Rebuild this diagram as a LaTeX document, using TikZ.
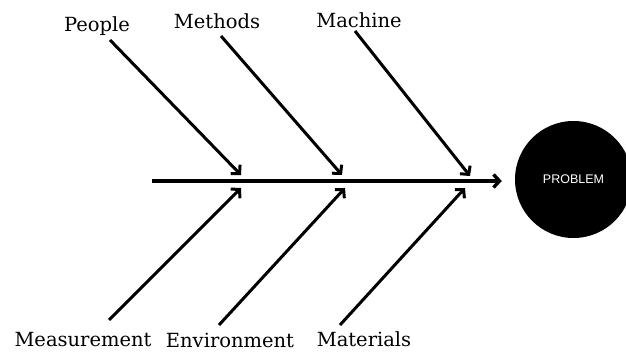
\documentclass[tikz,border=0pt]{standalone}
\usepackage{fontspec}
\newfontfamily\causefont{DejaVu Serif}
\newfontfamily\probfont{Liberation Sans}
\usetikzlibrary{arrows.meta,positioning}
\tikzset{
  cause/.style={font=\causefont\fontsize{19.5}{22}\selectfont,inner sep=1pt},
  bone/.style={-{Straight Barb[length=6pt,width=13pt]},line width=3pt,draw=black},
  spine/.style={bone,line width=3.4pt},
  problem/.style={circle,fill=black,minimum size=117pt,inner sep=0pt,text=white,font=\probfont\fontsize{12.5}{14}\selectfont},
}

\begin{document}
\begin{tikzpicture}[x=1pt,y=-1pt]
    \useasboundingbox (0,0) rectangle (626,352);
    \node[problem] (prob) at (573.5,179.5) {PROBLEM};
    \coordinate (tail) at (152,181);
    \draw[spine,shorten >=13pt] (tail) -- (tail -| prob.west);
    % causes above the spine
    \node[cause] (people) at (97,26) {People};
    \node[cause] (methods) at (217,21) {Methods};
    \node[cause] (machine) at (359,20) {Machine};
    \coordinate (pe0) at (110,40);  \coordinate (pe1) at (241,175);
    \coordinate (me0) at (221,36);  \coordinate (me1) at (342,175);
    \coordinate (ma0) at (355,31);  \coordinate (ma1) at (470,176);
    \draw[bone](pe0)--(pe1);\draw[bone](me0)--(me1);\draw[bone](ma0)--(ma1);
    % causes below the spine
    \node[cause] (measure) at (83,340) {Measurement};
    \node[cause] (environ) at (230,340) {Environment};
    \node[cause] (material) at (364,339) {Materials};
    \coordinate (mu0) at (109,320); \coordinate (mu1) at (241,188);
    \coordinate (en0) at (219,325); \coordinate (en1) at (345,188);
    \coordinate (mt0) at (340,325); \coordinate (mt1) at (465,188);
    \draw[bone](mu0)--(mu1);\draw[bone](en0)--(en1);\draw[bone](mt0)--(mt1);
  \end{tikzpicture}
\end{document}
